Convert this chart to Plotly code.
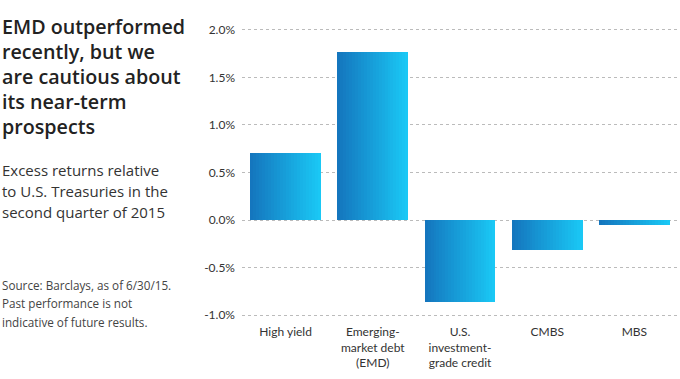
import plotly.graph_objects as go

categories = ["High yield", "Emerging-<br>market debt<br>(EMD)", "U.S.<br>investment-<br>grade credit", "CMBS", "MBS"]
excess_returns = [0.70, 1.77, -0.86, -0.31, -0.05]
tick_values = [-1.0, -0.5, 0.0, 0.5, 1.0, 1.5, 2.0]
tick_labels = ["-1.0%", "-0.5%", "0.0%", "0.5%", "1.0%", "1.5%", "2.0%"]

title_lines = ["EMD outperformed", "recently, but we", "are cautious about", "its near-term", "prospects"]
subtitle_lines = ["Excess returns relative", "to U.S. Treasuries in the", "second quarter of 2015"]
source_lines = ["Source: Barclays, as of 6/30/15.", "Past performance is not", "indicative of future results."]

W, H = 680, 379
ML, MR, MT, MB = 242, 2, 27, 61
bar_width = 0.81
n_slices = 24
c0 = (20, 118, 190)
c1 = (26, 200, 245)

fig = go.Figure()
for i in range(n_slices):
    t = i / (n_slices - 1)
    col = "rgb(%d,%d,%d)" % tuple(round(a + (b - a) * t) for a, b in zip(c0, c1))
    fig.add_trace(go.Bar(
        x=categories, y=excess_returns,
        width=bar_width / n_slices + 0.002,
        offset=-bar_width / 2 + i * bar_width / n_slices,
        marker=dict(color=col, line=dict(width=0)),
        showlegend=False, hoverinfo="skip",
    ))

pw = W - ML - MR
ph = H - MT - MB
def px(x):
    return (x - ML) / pw
def py(y):
    return 1 - (y - MT) / ph

font_fam = "'Open Sans', Lato, sans-serif"

def add_lines(lines, y0, dy, size, color, weight):
    for k, s in enumerate(lines):
        fig.add_annotation(xref="paper", yref="paper", x=px(0), y=py(y0 + k * dy),
                           xanchor="left", yanchor="middle", align="left", showarrow=False,
                           text=s, font=dict(family=font_fam, size=size, color=color, weight=weight))

add_lines(title_lines, 26, 25.2, 19.7, "#222222", 600)
add_lines(subtitle_lines, 169.5, 21.3, 15, "#333333", 400)
add_lines(source_lines, 285, 18.3, 11.7, "#444444", 400)

fig.update_layout(
    width=W, height=H,
    margin=dict(l=ML, r=MR, t=MT, b=MB),
    barmode="overlay", bargap=0,
    plot_bgcolor="white", paper_bgcolor="white",
    font=dict(family="Lato, sans-serif", color="#333333"),
    xaxis=dict(showgrid=False, showline=False, ticks="", tickfont=dict(size=12),
               tickangle=0, ticklabelstandoff=5),
    yaxis=dict(range=[-1.03, 2.03], tickvals=tick_values, ticktext=tick_labels,
               showgrid=True, gridcolor="#bbbbbb", griddash="dot", gridwidth=1,
               zeroline=False, showline=False, ticks="", tickfont=dict(size=12),
               ticklabelstandoff=6),
)

fig.write_html("out.html", config={"displayModeBar": False},
               post_script="document.body.style.margin='0';")
